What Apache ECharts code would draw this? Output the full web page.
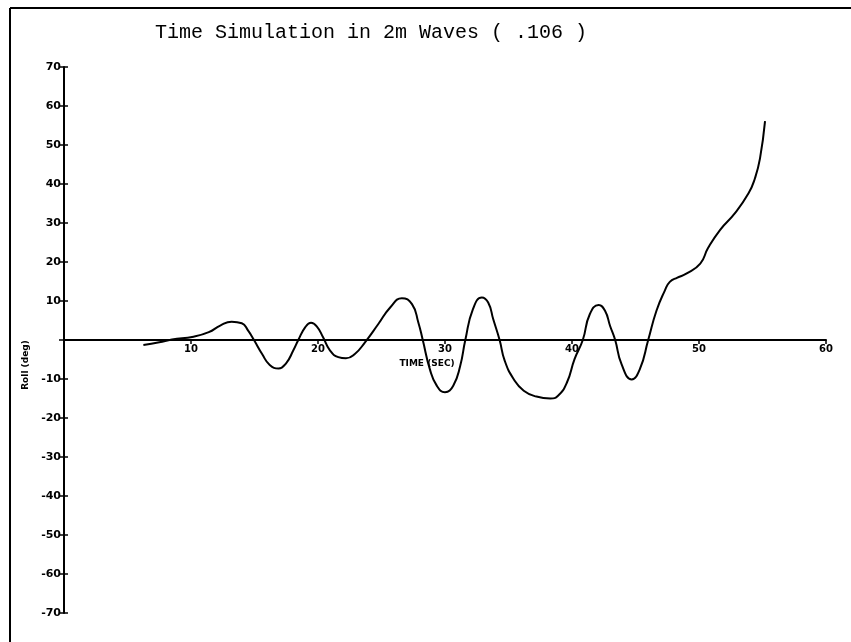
<!DOCTYPE html>
<html>
<head>
<meta charset="utf-8">
<script src="https://cdn.jsdelivr.net/npm/echarts@6/dist/echarts.min.js"></script>
<style>
html,body{margin:0;padding:0;background:#fff;}
#chart{width:851px;height:642px;}
</style>
</head>
<body>
<div id="chart"></div>
<script>
const titleText = "Time Simulation in 2m Waves ( .106 )";
const xName = "TIME (SEC)";
const yName = "Roll (deg)";
const timeSec = [6.25, 7.5, 8.5, 10.2, 11.4, 12.3, 13.2, 14.0, 14.5, 14.96, 15.6, 16.2, 16.9, 17.5, 18.05, 18.45, 19.0, 19.45, 19.9, 20.4, 20.95, 21.6, 22.2, 22.9, 23.7, 24.75, 25.7, 26.6, 27.4, 27.9, 28.25, 28.8, 29.35, 30.0, 30.65, 31.2, 31.6, 32.2, 32.9, 33.4, 33.8, 34.3, 34.7, 35.4, 36.2, 37.2, 38.3, 38.9, 39.6, 40.2, 40.85, 41.4, 42.1, 42.6, 43.0, 43.4, 43.9, 44.7, 45.35, 46.0, 46.65, 47.3, 47.7, 48.3, 49.0, 50.1, 50.7, 51.65, 52.8, 53.9, 54.4, 54.8, 55.2];
const rollDeg = [-1.3, -0.6, 0.1, 0.85, 2.0, 3.7, 4.7, 4.3, 2.4, 0, -3.6, -6.4, -7.3, -5.9, -2.7, 0, 3.3, 4.4, 3.5, 0.7, -2.7, -4.4, -4.7, -3.6, -0.6, 4.1, 8.4, 10.7, 9.2, 4.5, 0, -7.4, -11.7, -13.4, -11.7, -6.6, 0, 7.9, 10.9, 9.6, 5.3, 0, -5.3, -10.0, -13.0, -14.5, -15.0, -14.3, -10.9, -4.9, 0, 6.6, 9.0, 7.5, 3.6, 0, -6.2, -10.1, -7.4, 0, 7.5, 12.6, 14.9, 16.0, 17.0, 19.6, 23.5, 28.2, 32.4, 37.6, 41.4, 46.5, 56.1];
const xMin = 0, xMax = 60, xStep = 10;
const yMin = -70, yMax = 70, yStep = 10;

const chart = echarts.init(document.getElementById('chart'), null, {renderer: 'canvas'});
const labelFont = {color: '#000', fontFamily: 'DejaVu Sans', fontWeight: 'bold', fontSize: 10};
chart.setOption({
  animation: false,
  backgroundColor: '#fff',
  title: {
    text: titleText,
    left: 150, top: 18,
    textStyle: {fontFamily: 'Liberation Mono', fontWeight: 'normal', fontSize: 20, color: '#000'}
  },
  graphic: [
    {type: 'line', shape: {x1: 10, y1: 8, x2: 851, y2: 8}, style: {stroke: '#000', lineWidth: 2}},
    {type: 'line', shape: {x1: 10, y1: 8, x2: 10, y2: 642}, style: {stroke: '#000', lineWidth: 2}}
  ],
  grid: {left: 64, right: 25, top: 67, bottom: 29, containLabel: false},
  xAxis: {
    type: 'value', min: xMin, max: xMax, interval: xStep,
    position: 'bottom', offset: -273,
    name: xName, nameLocation: 'middle', nameGap: 18,
    nameTextStyle: Object.assign({}, labelFont, {fontSize: 9, padding: [0, 36, 0, 0]}),
    axisLine: {onZero: false, lineStyle: {color: '#000', width: 2}},
    axisTick: {show: true, length: 4, lineStyle: {color: '#000', width: 1.5}},
    axisLabel: Object.assign({}, labelFont, {margin: 4, showMinLabel: false,
      formatter: v => v === 0 ? '' : String(v)}),
    splitLine: {show: false}
  },
  yAxis: [{
    type: 'value', min: yMin, max: yMax, interval: yStep,
    name: yName, nameLocation: 'middle', nameGap: 33, nameRotate: 90,
    nameTextStyle: Object.assign({}, labelFont, {fontSize: 9, padding: [0, 50, 0, 0]}),
    axisLine: {show: true, onZero: false, lineStyle: {color: '#000', width: 2}},
    axisTick: {show: true, length: 5, lineStyle: {color: '#000', width: 1.5}},
    axisLabel: Object.assign({}, labelFont, {fontSize: 11, margin: 3,
      formatter: v => v === 0 ? '' : String(v)}),
    splitLine: {show: false}
  }, {
    type: 'value', min: yMin, max: yMax, interval: yStep, position: 'left',
    axisLine: {show: false, onZero: false},
    axisTick: {show: true, inside: true, length: 4, lineStyle: {color: '#000', width: 1.5}},
    axisLabel: {show: false},
    splitLine: {show: false}
  }],
  series: [{
    type: 'line',
    data: timeSec.map((t, i) => [t, rollDeg[i]]),
    smooth: 0.5,
    showSymbol: false,
    lineStyle: {color: '#000', width: 2},
    z: 5
  }]
});
</script>
</body>
</html>
